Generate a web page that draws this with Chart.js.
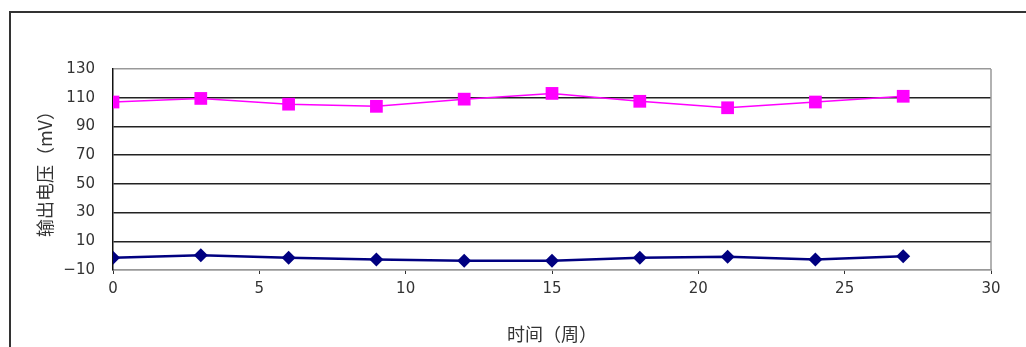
<!DOCTYPE html>
<html>
<head>
<meta charset="utf-8">
<script src="https://cdn.jsdelivr.net/npm/chart.js@4"></script>
<style>
  html, body { margin: 0; padding: 0; background: #fff; }
  #wrap { width: 1026px; height: 347px; position: relative; }
</style>
</head>
<body>
<div id="wrap"><canvas id="myChart" width="1026" height="347"></canvas></div>
<script>
// weeks on x axis
const weeks = [0, 3, 6, 9, 12, 15, 18, 21, 24, 27];
// upper series (pink squares)
const upperValues = [107, 109.5, 105.5, 104, 109, 113, 107.5, 103, 107, 111];
// lower series (navy diamonds)
const lowerValues = [-1.5, 0.3, -1.5, -2.6, -3.6, -3.6, -1.5, -0.8, -2.6, -0.4];
const yTickValues = [-10, 10, 30, 50, 70, 90, 110, 130];
const xTickValues = [0, 5, 10, 15, 20, 25, 30];

const labelFont = { family: 'DejaVu Sans', size: 15 };
const titleFont = { family: 'Noto Sans CJK SC', size: 18 };

// outer frame around the whole chart (left and top edges only show in the picture)
const framePlugin = {
  id: 'frame',
  beforeDraw(chart) {
    const c = chart.ctx;
    c.save();
    c.fillStyle = '#fff';
    c.fillRect(0, 0, chart.width, chart.height);
    c.strokeStyle = '#333';
    c.lineWidth = 2;
    c.beginPath();
    c.moveTo(10, chart.height);
    c.lineTo(10, 12);
    c.lineTo(chart.width, 12);
    c.stroke();
    c.restore();
  },
  afterDraw(chart) {
    // right edge of plot area is a grey border
    const a = chart.chartArea;
    const c = chart.ctx;
    c.save();
    c.strokeStyle = '#999';
    c.lineWidth = 1.5;
    c.beginPath();
    c.moveTo(a.right, a.top);
    c.lineTo(a.right, a.bottom);
    c.stroke();
    c.restore();
  }
};

const ctx = document.getElementById('myChart').getContext('2d');
const myChart = new Chart(ctx, {
  type: 'line',
  data: {
    datasets: [
      {
        label: 'upper',
        data: weeks.map((w, i) => ({ x: w, y: upperValues[i] })),
        borderColor: '#ff00ff',
        backgroundColor: '#ff00ff',
        borderWidth: 1.5,
        pointStyle: 'rect',
        pointRadius: 9,
        pointBorderWidth: 0,
        tension: 0
      },
      {
        label: 'lower',
        data: weeks.map((w, i) => ({ x: w, y: lowerValues[i] })),
        borderColor: '#000080',
        backgroundColor: '#000080',
        borderWidth: 2.5,
        pointStyle: 'rectRot',
        pointRadius: 7,
        pointBorderWidth: 0,
        tension: 0
      }
    ]
  },
  options: {
    responsive: false,
    animation: false,
    layout: { padding: { left: 28, right: 35, top: 69, bottom: 0 } },
    plugins: {
      legend: { display: false },
      tooltip: { enabled: false }
    },
    scales: {
      x: {
        type: 'linear',
        min: 0,
        max: 30,
        afterFit: (scale) => { scale.height = 77; },
        afterBuildTicks: (scale) => { scale.ticks = xTickValues.map(v => ({ value: v })); },
        grid: { drawOnChartArea: false, drawTicks: true, tickLength: 4, color: '#333' },
        border: { color: '#999', width: 1.5 },
        ticks: { font: labelFont, color: '#333', padding: 6, maxRotation: 0 },
        title: {
          display: true,
          text: '时间（周）',
          font: titleFont,
          color: '#333',
          padding: { top: 0, bottom: 2 }
        }
      },
      y: {
        min: -10,
        max: 130,
        afterFit: (scale) => { scale.width = 85; },
        afterBuildTicks: (scale) => { scale.ticks = yTickValues.map(v => ({ value: v })); },
        grid: {
          drawTicks: false,
          lineWidth: 1.5,
          color: (c) => (c.tick && (c.tick.value === 130 || c.tick.value === -10)) ? '#999' : '#222'
        },
        border: { color: '#111', width: 1.5 },
        ticks: {
          font: labelFont,
          color: '#333',
          padding: 18,
          callback: (v) => (v < 0 ? '\u2212' + Math.abs(v) : String(v))
        },
        title: {
          display: true,
          text: '输出电压（mV）',
          font: titleFont,
          color: '#333',
          padding: { top: 6, bottom: 0 }
        }
      }
    }
  },
  plugins: [framePlugin]
});
</script>
</body>
</html>
